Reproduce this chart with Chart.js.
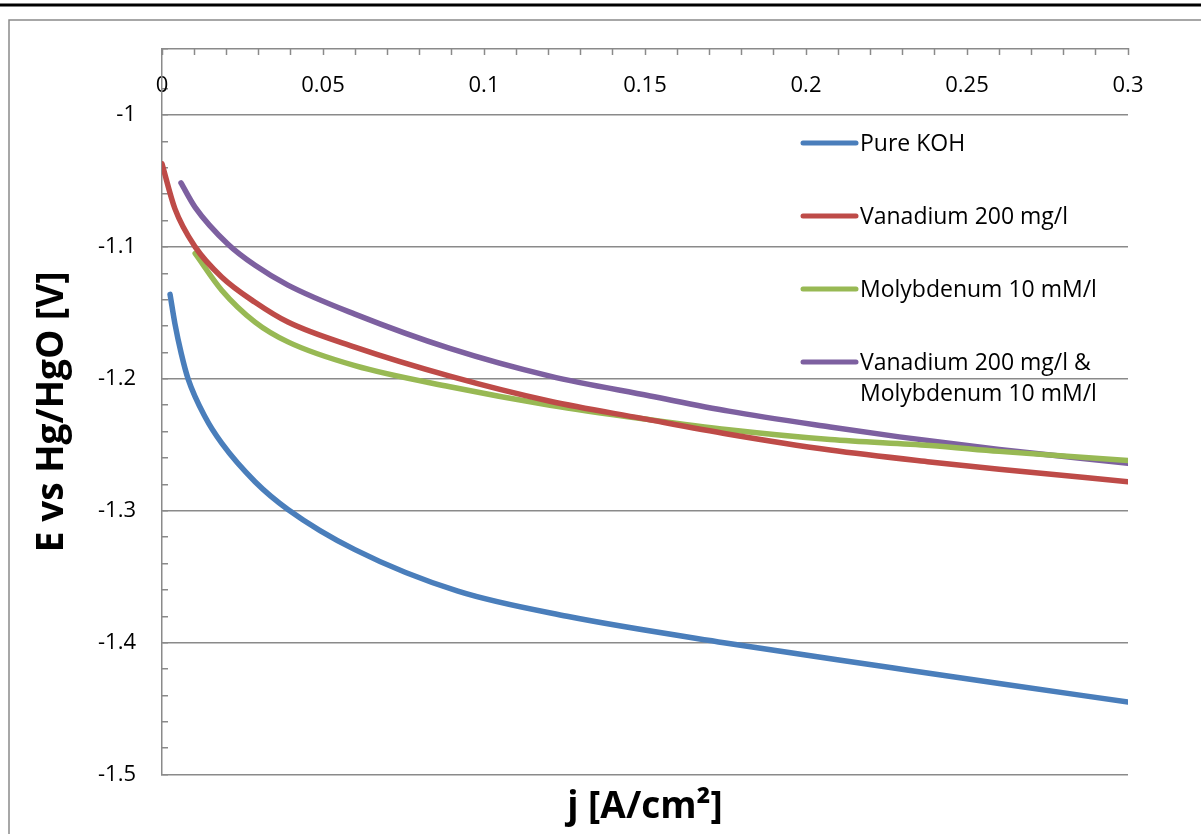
<!DOCTYPE html>
<html>
<head>
<meta charset="utf-8">
<script src="https://cdn.jsdelivr.net/npm/chart.js@4.4.1/dist/chart.umd.min.js"></script>
<style>
  html, body { margin: 0; padding: 0; background: #fff; }
  canvas { display: block; }
</style>
</head>
<body>
<canvas id="polChart" width="1201" height="834"></canvas>
<script>
// polarisation curves, j in A/cm2, E in V vs Hg/HgO
const seriesNames = ['Pure KOH', 'Vanadium 200 mg/l', 'Molybdenum 10 mM/l', 'Vanadium 200 mg/l &\nMolybdenum 10 mM/l'];
const seriesColors = ['#4a7ebb', '#be4b48', '#98b954', '#7d60a0'];

const kohJ = [0.0025, 0.004, 0.006, 0.0081, 0.0134, 0.0186, 0.0289, 0.0391, 0.0599, 0.0919, 0.1258, 0.1745, 0.2267, 0.26, 0.3];
const kohE = [-1.136, -1.158, -1.181, -1.2, -1.229, -1.249, -1.278, -1.299, -1.3295, -1.361, -1.38, -1.4, -1.419, -1.431, -1.445];

const vanJ = [0.0, 0.004, 0.0103, 0.0186, 0.0289, 0.0391, 0.0599, 0.0894, 0.1205, 0.149, 0.176, 0.2075, 0.2385, 0.26, 0.3];
const vanE = [-1.037, -1.071, -1.1, -1.123, -1.142, -1.157, -1.176, -1.198, -1.217, -1.23, -1.242, -1.254, -1.263, -1.2685, -1.278];

const molJ = [0.0103, 0.0186, 0.0289, 0.0391, 0.0599, 0.0894, 0.1205, 0.1516, 0.176, 0.2075, 0.2385, 0.26, 0.3];
const molE = [-1.105, -1.133, -1.157, -1.172, -1.19, -1.206, -1.22, -1.231, -1.2386, -1.246, -1.2505, -1.255, -1.262];

const vanMolJ = [0.0059, 0.0103, 0.0205, 0.0289, 0.0391, 0.0599, 0.0894, 0.1205, 0.1516, 0.176, 0.2075, 0.229, 0.26, 0.3];
const vanMolE = [-1.0515, -1.07, -1.098, -1.114, -1.129, -1.151, -1.177, -1.198, -1.213, -1.2245, -1.2365, -1.244, -1.2535, -1.264];

const xTickValues = [0, 0.05, 0.1, 0.15, 0.2, 0.25, 0.3];
const xTickLabels = ['0', '0.05', '0.1', '0.15', '0.2', '0.25', '0.3'];
const yTickValues = [-1, -1.1, -1.2, -1.3, -1.4, -1.5];
const yTickLabels = ['-1', '-1.1', '-1.2', '-1.3', '-1.4', '-1.5'];

const FONT = '"Open Sans", Lato, sans-serif';
const GRID = '#8a8a8a';

function toPoints(xs, ys) {
  return xs.map((x, i) => ({x: x, y: ys[i]}));
}

function labelFor(values, labels, v) {
  const i = values.findIndex(t => Math.abs(t - v) < 1e-9);
  return i < 0 ? '' : labels[i];
}

// page frame behind the chart
const framePlugin = {
  id: 'frame',
  beforeDraw(chart) {
    const ctx = chart.ctx;
    ctx.save();
    ctx.fillStyle = '#fff';
    ctx.fillRect(0, 0, chart.width, chart.height);
    ctx.strokeStyle = '#000';
    ctx.lineWidth = 3;
    ctx.beginPath();
    ctx.moveTo(0, 5);
    ctx.lineTo(chart.width, 5);
    ctx.stroke();
    ctx.strokeStyle = GRID;
    ctx.lineWidth = 1.5;
    ctx.beginPath();
    ctx.moveTo(9, chart.height);
    ctx.lineTo(9, 20);
    ctx.lineTo(chart.width, 20);
    ctx.stroke();
    ctx.restore();
  }
};

// legend sits inside the plot on the right, one entry may span two lines
const insideLegend = {
  id: 'insideLegend',
  afterDatasetsDraw(chart) {
    const ctx = chart.ctx;
    const top = chart.chartArea.top;
    ctx.save();
    ctx.font = '23px ' + FONT;
    ctx.textBaseline = 'middle';
    ctx.textAlign = 'left';
    chart.data.datasets.forEach((ds, i) => {
      const y = top + 94 + i * 73;
      ctx.strokeStyle = ds.borderColor;
      ctx.lineWidth = 5;
      ctx.lineCap = 'round';
      ctx.beginPath();
      ctx.moveTo(803, y);
      ctx.lineTo(856, y);
      ctx.stroke();
      ctx.fillStyle = '#000';
      ds.label.split('\n').forEach((line, k) => {
        ctx.fillText(line, 860, y + 1 + k * 31);
      });
    });
    ctx.restore();
  }
};

const datasets = [
  toPoints(kohJ, kohE),
  toPoints(vanJ, vanE),
  toPoints(molJ, molE),
  toPoints(vanMolJ, vanMolE)
].map((pts, i) => ({
  label: seriesNames[i],
  data: pts,
  borderColor: seriesColors[i],
  backgroundColor: seriesColors[i],
  borderWidth: 5.5,
  borderCapStyle: 'round',
  pointRadius: 0,
  cubicInterpolationMode: 'monotone',
  fill: false
}));

const config = {
  type: 'line',
  data: {datasets: datasets},
  options: {
    responsive: false,
    animation: false,
    layout: {padding: {left: 0, top: 0, right: 73, bottom: 0}},
    plugins: {
      legend: {display: false},
      tooltip: {enabled: false},
      title: {
        display: true,
        position: 'bottom',
        fullSize: false,
        text: 'j [A/cm²]',
        color: '#000',
        font: {family: FONT, size: 37, weight: 'bold', lineHeight: 1.2},
        padding: {top: 11, bottom: 4}
      }
    },
    scales: {
      x: {
        type: 'linear',
        position: 'top',
        min: 0,
        max: 0.3,
        afterFit: s => { s.height = 49; },
        border: {display: true, color: GRID, width: 1.5},
        grid: {drawOnChartArea: false, drawTicks: true, tickLength: -6, tickColor: GRID, tickWidth: 1.5},
        ticks: {
          stepSize: 0.01,
          autoSkip: false,
          maxRotation: 0,
          mirror: true,
          padding: 24,
          color: '#000',
          font: {family: FONT, size: 22},
          callback: v => labelFor(xTickValues, xTickLabels, v)
        }
      },
      y: {
        type: 'linear',
        position: 'left',
        min: -1.5,
        max: -0.95,
        afterFit: s => { s.width = 162; },
        border: {display: true, color: GRID, width: 1.5},
        grid: {
          drawTicks: true,
          tickLength: -6,
          tickColor: GRID,
          tickWidth: 1.5,
          lineWidth: 1.5,
          color: c => labelFor(yTickValues, yTickLabels, c.tick.value) ? GRID : 'rgba(0,0,0,0)'
        },
        ticks: {
          stepSize: 0.02,
          autoSkip: false,
          padding: 32,
          color: '#000',
          font: {family: FONT, size: 22},
          callback: v => labelFor(yTickValues, yTickLabels, v)
        },
        title: {
          display: true,
          text: 'E vs Hg/HgO [V]',
          color: '#000',
          font: {family: FONT, size: 37, weight: 'bold', lineHeight: 1.2},
          padding: {top: 30, bottom: 0}
        }
      }
    }
  },
  plugins: [framePlugin, insideLegend]
};

const polCanvas = document.getElementById('polChart').getContext('2d');
const polChart = new Chart(polCanvas, config);
</script>
</body>
</html>
